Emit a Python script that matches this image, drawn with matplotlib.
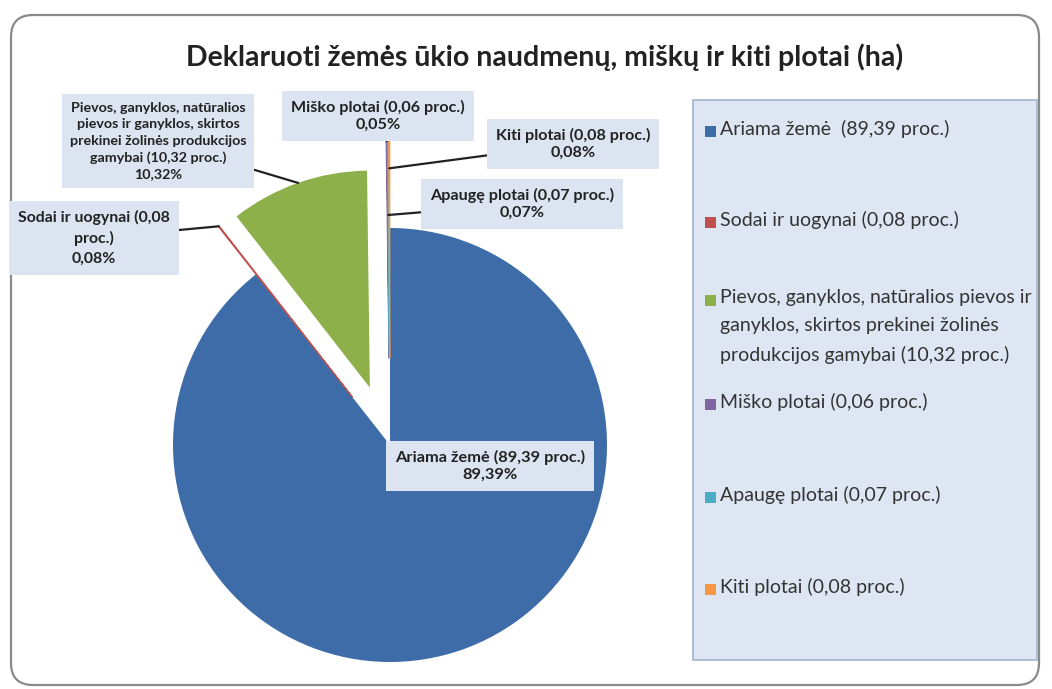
#!/usr/bin/env python3
"""Declared agricultural, forest and other areas - pie chart with callouts."""

import matplotlib
matplotlib.use("Agg")
import matplotlib.pyplot as plt
import numpy as np
from matplotlib.patches import FancyBboxPatch, Rectangle

plt.rcParams['font.family'] = ['Lato', 'DejaVu Sans']

# Data
categories = [
	"Ariama žemė",
	"Sodai ir uogynai",
	"Pievos, ganyklos, natūralios pievos ir ganyklos, skirtos prekinei žolinės produkcijos gamybai",
	"Miško plotai",
	"Apaugę plotai",
	"Kiti plotai",
]
shares = [89.39, 0.08, 10.32, 0.06, 0.07, 0.08]
callout_pct = ["89,39%", "0,08%", "10,32%", "0,05%", "0,07%", "0,08%"]
legend_labels = [
	"Ariama žemė  (89,39 proc.)",
	"Sodai ir uogynai (0,08 proc.)",
	"Pievos, ganyklos, natūralios pievos ir\nganyklos, skirtos prekinei žolinės\nprodukcijos gamybai (10,32 proc.)",
	"Miško plotai (0,06 proc.)",
	"Apaugę plotai (0,07 proc.)",
	"Kiti plotai (0,08 proc.)",
]
callout_names = [
	"Ariama žemė (89,39 proc.)",
	"Sodai ir uogynai (0,08\nproc.)",
	"Pievos, ganyklos, natūralios\npievos ir ganyklos, skirtos\nprekinei žolinės produkcijos\ngamybai (10,32 proc.)",
	"Miško plotai (0,06 proc.)",
	"Apaugę plotai (0,07 proc.)",
	"Kiti plotai (0,08 proc.)",
]
colors = ['#3d6ca9', '#c0504d', '#8eb04a', '#8064a2', '#4bacc6', '#f79646']

# Layout (pixel units, y measured upward)
W, H = 1052, 689
pie_center = (390, 244)
pie_radius = 217
explode = [0, 0.28, 0.28, 0.4, 0.4, 0.4]
callout_xy = [(490, 223), (94, 451), (158, 548), (378, 573), (522, 485), (573, 545)]
callout_size = [11.8, 11.4, 10.3, 11.6, 11.6, 11.6]
callout_spacing = [1.3, 1.5, 1.45, 1.25, 1.25, 1.25]
leader_frac = [None, 1.0, 1.0, 1.0, 0.66, 0.875]
legend_y = [557, 466, 388, 284, 191, 99]

fig = plt.figure(figsize=(W / 100, H / 100), dpi=100)
ax = fig.add_axes([0, 0, 1, 1])

wedges, _ = ax.pie(shares, colors=colors, explode=[e * pie_radius for e in explode],
                   startangle=90, counterclock=False, center=pie_center,
                   radius=pie_radius, wedgeprops=dict(linewidth=0))
# thin slices get an outline so they show up as lines
for w, v in zip(wedges, shares):
	if v < 1:
		w.set_edgecolor(w.get_facecolor())
		w.set_linewidth(0.8)

ax.set_xlim(0, W)
ax.set_ylim(0, H)
ax.set_aspect('auto')
ax.axis('off')

# outer rounded frame
frame = FancyBboxPatch((11, 4), W - 24, H - 19, boxstyle="round,pad=0,rounding_size=22",
                       transform=ax.transData, facecolor='none', edgecolor='#8a8a8a',
                       linewidth=1.6, zorder=0)
ax.add_patch(frame)

ax.text(545, 632, "Deklaruoti žemės ūkio naudmenų, miškų ir kiti plotai (ha)",
        ha='center', va='center', fontsize=20.5, fontweight='bold', color='#222222')

box_style = dict(boxstyle='square,pad=0.55', facecolor='#dbe4f0', edgecolor='none')

for i, (w, name, pct) in enumerate(zip(wedges, callout_names, callout_pct)):
	label = f"{name}\n{pct}"
	if leader_frac[i] is None:
		ax.text(*callout_xy[i], label, ha='center', va='center', fontsize=callout_size[i],
		        fontweight='bold', color='#222222', linespacing=callout_spacing[i],
		        bbox=box_style, zorder=5)
		continue
	ang = np.deg2rad((w.theta1 + w.theta2) / 2)
	r = w.r * leader_frac[i]
	tip = (w.center[0] + r * np.cos(ang), w.center[1] + r * np.sin(ang))
	ax.annotate(label, xy=tip, xytext=callout_xy[i], ha='center', va='center',
	            fontsize=callout_size[i], fontweight='bold', color='#222222',
	            linespacing=callout_spacing[i], bbox=box_style, zorder=5,
	            arrowprops=dict(arrowstyle='-', color='#222222', lw=1.6,
	                            shrinkA=0, shrinkB=0))

# legend panel
ax.add_patch(Rectangle((693, 29), 344, 560, facecolor='#dde6f2', edgecolor='#9fb4cf',
                       linewidth=1.2, zorder=1))
for y, lab, c in zip(legend_y, legend_labels, colors):
	ax.add_patch(Rectangle((705, y - 5), 11, 11, facecolor=c, edgecolor='none', zorder=2))
	ax.text(720, y + 12, lab, ha='left', va='top', fontsize=14, color='#333333',
	        linespacing=1.8, zorder=3)

fig.savefig("out.png", dpi=100)
